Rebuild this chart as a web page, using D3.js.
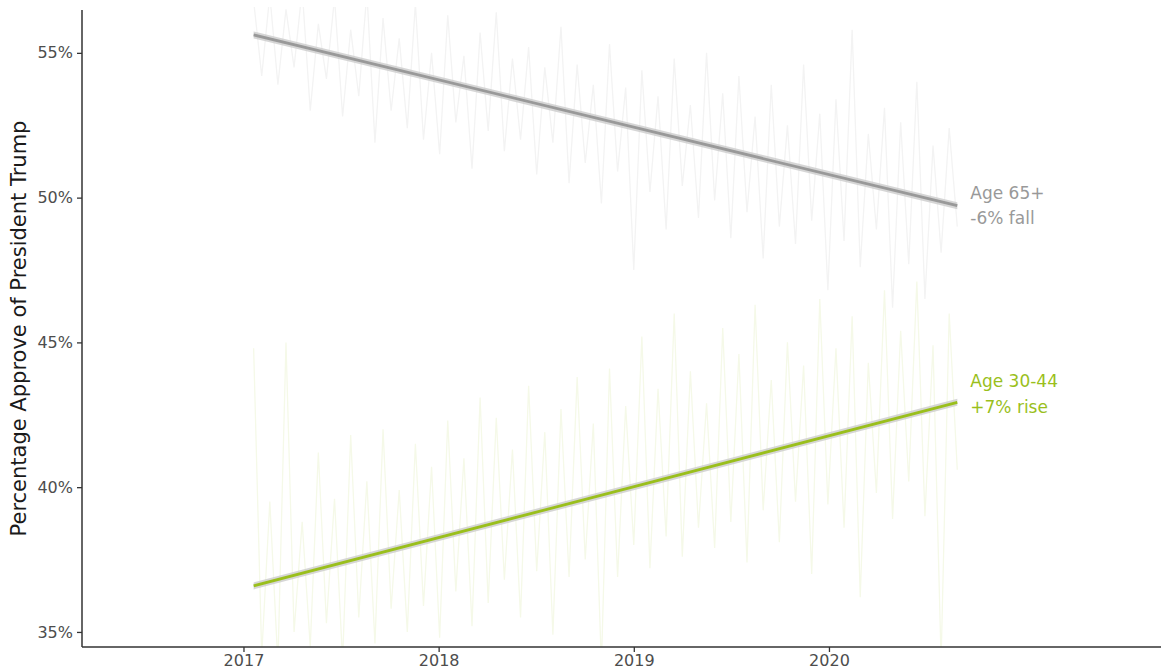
<!DOCTYPE html>
<html>
<head>
<meta charset="utf-8">
<script src="https://cdn.jsdelivr.net/npm/d3@7"></script>
<style>
  html, body { margin: 0; padding: 0; background: #fff; }
  svg { display: block; font-family: "DejaVu Sans", sans-serif; }
</style>
</head>
<body>
<svg id="chart" width="1161" height="671"></svg>
<script>
// ---- data ----
const yTicks = [35, 40, 45, 50, 55];
const xTickYears = [2017, 2018, 2019, 2020];
const seriesStart = "2017-01-20";
const seriesEnd = "2020-08-28";

// faint poll readings (approx. every 15 days)
const older = [56.8,54.2,57.0,53.9,56.5,54.5,57.2,53.0,56.0,54.1,
  56.9,52.8,55.8,53.5,57.1,51.9,56.2,53.0,55.5,52.4,
  56.7,52.0,55.0,51.5,56.3,52.6,54.9,51.0,55.7,52.3,
  56.4,51.6,54.8,52.0,55.2,50.8,54.5,51.9,55.9,50.5,
  54.6,51.2,53.9,49.8,55.3,50.9,53.8,47.5,54.4,50.2,
  53.5,48.9,54.8,50.4,53.2,49.3,55.0,49.9,53.6,48.6,
  54.2,49.5,52.8,47.9,53.9,49.0,52.5,48.4,54.6,49.2,
  52.9,46.8,53.4,48.5,55.8,47.6,52.2,48.9,53.1,46.2,
  52.6,47.7,54.0,46.5,51.8,48.1,52.4,49.0];
const middle = [44.8,34.2,39.5,33.9,45.0,35.0,38.8,34.5,41.2,35.3,
  39.6,34.0,41.8,35.5,40.2,34.6,42.0,35.8,39.9,35.0,
  41.5,35.9,40.7,34.8,42.3,36.4,41.0,35.2,43.1,36.0,
  42.4,36.8,41.3,35.5,43.5,37.1,41.9,34.9,42.7,36.9,
  43.8,37.5,42.2,33.8,44.1,36.9,42.8,38.0,45.2,37.2,
  43.4,38.3,46.0,37.6,44.0,38.6,42.9,37.9,45.5,38.8,
  44.6,37.4,46.3,39.2,43.7,38.1,45.0,39.5,44.2,37.0,
  46.5,39.4,44.8,38.6,45.9,36.2,44.3,39.8,46.8,38.9,
  45.4,40.2,47.1,39.0,44.9,34.0,46.0,40.6];

// fitted trend endpoints [start, end]
const olderTrend = [55.62, 49.72];
const middleTrend = [36.59, 42.93];

const groups = ["Age 65+", "Age 30-44"];
const groupNotes = ["-6% fall", "+7% rise"];

// ---- layout ----
const svg = d3.select("#chart");
const mLeft = 82, mRight = 1161, mTop = 10, mBottom = 647;

const parse = d3.utcParse("%Y-%m-%d");
const x = d3.scaleUtc()
  .domain([parse("2016-03-05"), parse("2021-09-13")])
  .range([mLeft, mRight]);
const y = d3.scaleLinear()
  .domain([34.48, 56.48])
  .range([mBottom, mTop]);

const t0 = parse(seriesStart), t1 = parse(seriesEnd);
const dateAt = (i, n) => new Date(+t0 + (t1 - t0) * i / (n - 1));

svg.append("defs").append("clipPath").attr("id", "clip")
  .append("rect").attr("x", mLeft).attr("y", mTop - 3)
  .attr("width", mRight - mLeft).attr("height", mBottom - mTop + 3);

const plot = svg.append("g").attr("clip-path", "url(#clip)");

const line = d3.line().x(d => x(d[0])).y(d => y(d[1]));

function faint(values, color) {
  const pts = values.map((v, i) => [dateAt(i, values.length), v]);
  plot.append("path").datum(pts)
    .attr("d", line)
    .attr("fill", "none")
    .attr("stroke", color)
    .attr("stroke-width", 1.3);
}
faint(older, "#f3f3f3");
faint(middle, "#f5f9e8");

function trend(tr, color) {
  const pts = [[t0, tr[0]], [t1, tr[1]]];
  const band = d3.area().x(d => x(d[0]))
    .y0(d => y(d[1] - 0.12)).y1(d => y(d[1] + 0.12));
  plot.append("path").datum(pts).attr("d", band)
    .attr("fill", "#c8c8c8").attr("fill-opacity", 0.75);
  plot.append("path").datum(pts).attr("d", line)
    .attr("fill", "none").attr("stroke", color).attr("stroke-width", 2.8);
}
trend(olderTrend, "#999999");
trend(middleTrend, "#9abf1c");

// ---- axes ----
const yAxis = svg.append("g").attr("transform", `translate(${mLeft},0)`)
  .call(d3.axisLeft(y).tickValues(yTicks).tickFormat(d => d + "%").tickSize(5).tickPadding(4));
const xAxis = svg.append("g").attr("transform", `translate(0,${mBottom})`)
  .call(d3.axisBottom(x).tickValues(xTickYears.map(yr => new Date(Date.UTC(yr, 0, 1))))
    .tickFormat(d3.utcFormat("%Y")).tickSize(5).tickPadding(3));

[yAxis, xAxis].forEach(g => {
  g.select(".domain").attr("stroke", "#333").attr("stroke-width", 1.5);
  g.selectAll(".tick line").attr("stroke", "#333").attr("stroke-width", 1.3);
  g.selectAll(".tick text").attr("fill", "#4d4d4d").style("font-size", "16px")
    .style("font-family", "DejaVu Sans, sans-serif");
});
yAxis.select(".domain").attr("d", `M0,${mTop}V${mBottom}`);
xAxis.select(".domain").attr("d", `M${mLeft},0H${mRight}`);

svg.append("text")
  .attr("transform", `translate(26,${(mTop + mBottom) / 2}) rotate(-90)`)
  .attr("text-anchor", "middle")
  .attr("fill", "#1a1a1a")
  .style("font-size", "21px")
  .text("Percentage Approve of President Trump");

// ---- labels ----
const labelColors = ["#999999", "#9abf1c"];
const endVals = [olderTrend[1], middleTrend[1]];
const labelOffsets = [-7, -15];
groups.forEach((g, i) => {
  const tx = x(t1) + 13;
  const ty = y(endVals[i]) + labelOffsets[i];
  const t = svg.append("text").attr("x", tx).attr("y", ty)
    .attr("fill", labelColors[i]).style("font-size", "17px");
  t.append("tspan").attr("x", tx).text(g);
  t.append("tspan").attr("x", tx).attr("dy", 25.5).text(groupNotes[i]);
});
</script>
</body>
</html>
